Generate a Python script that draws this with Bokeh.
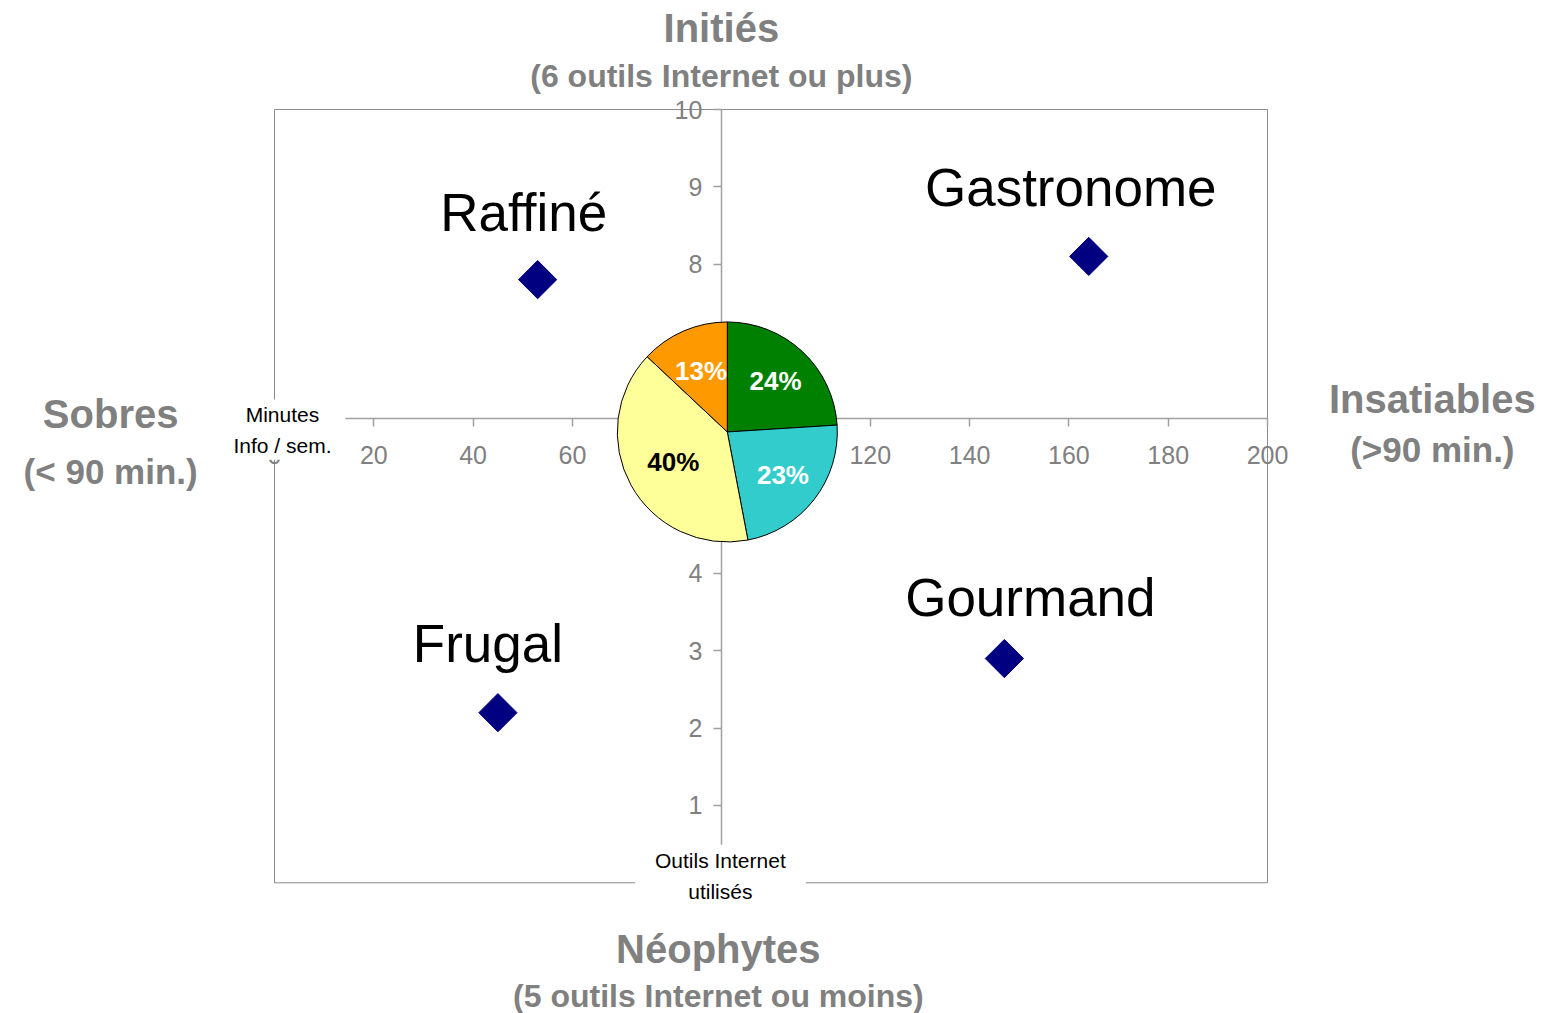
import math
from bokeh.plotting import figure
from bokeh.models import ColumnDataSource, LinearAxis, Label, Range1d, FixedTicker
from bokeh.core.properties import value
from bokeh.embed import file_html
from bokeh.resources import INLINE

# ---------------- data ----------------
segments = ["Raffiné", "Gastronome", "Gourmand", "Frugal"]
minutes = [53, 164, 147, 45]          # Minutes Info / sem.
tools = [7.8, 8.1, 2.9, 2.2]          # Outils Internet utilisés

pie_labels = ["24%", "23%", "40%", "13%"]
pie_values = [24, 23, 40, 13]
pie_colors = ["#008000", "#33CCCC", "#FFFF99", "#FF9900"]
pie_text_colors = ["white", "white", "black", "white"]

x_ticks = [0, 20, 40, 60, 80, 100, 120, 140, 160, 180, 200]
y_ticks = [0, 1, 2, 3, 4, 5, 6, 7, 8, 9, 10]
X_MIN, X_MAX = 0, 200
Y_MIN, Y_MAX = 0, 10

# ---------------- style / layout ----------------
FONT = "Liberation Sans"
GREY = "#808080"
AXIS_GREY = "#a0a0a0"
W, H = 1553, 1013
# pixel box of the chart area inside the canvas
BOX_L, BOX_R, BOX_T, BOX_B = 274, 1267, 109, 882.3
sx = (BOX_R - BOX_L) / (X_MAX - X_MIN)
sy = (BOX_B - BOX_T) / (Y_MAX - Y_MIN)
x_start = X_MIN - BOX_L / sx
x_end = X_MAX + (W - BOX_R) / sx
y_start = Y_MIN - (H - BOX_B) / sy
y_end = Y_MAX + BOX_T / sy

X_CROSS = 90     # vertical axis position (minutes)
Y_CROSS = 6      # horizontal axis position (outils)
PIE_X, PIE_Y, PIE_R = 91.2, 5.83, 110
label_dx = [-14, -18, 26, -10]
label_dy = [-67, -69, -61, -69]
pie_label_r = [0.64, 0.64, 0.56, 0.6]

p = figure(width=W, height=H,
           x_range=Range1d(x_start, x_end), y_range=Range1d(y_start, y_end),
           x_axis_type=None, y_axis_type=None,
           output_backend="svg", toolbar_location=None,
           min_border=0)
p.outline_line_color = None
p.background_fill_color = "white"
p.border_fill_color = "white"

# chart box
p.quad(left=[X_MIN], right=[X_MAX], bottom=[Y_MIN], top=[Y_MAX],
       fill_color=None, line_color="#8c8c8c", line_width=1)

common_axis = dict(axis_line_color=AXIS_GREY, axis_line_width=1.5,
                   major_tick_line_color=AXIS_GREY, major_tick_line_width=1.5,
                   major_tick_in=0, major_tick_out=8,
                   minor_tick_line_color=None,
                   major_label_text_font=FONT,
                   major_label_text_font_size="25px",
                   major_label_text_color=GREY)

xaxis = LinearAxis(fixed_location=Y_CROSS, ticker=FixedTicker(ticks=x_ticks),
                   bounds=(X_MIN, X_MAX), major_label_standoff=19, **common_axis)
p.add_layout(xaxis, "below")
yaxis = LinearAxis(fixed_location=X_CROSS, ticker=FixedTicker(ticks=y_ticks),
                   bounds=(Y_MIN, Y_MAX), major_label_standoff=11, **common_axis)
p.add_layout(yaxis, "left")

# ---------------- points ----------------
src = ColumnDataSource(dict(x=minutes, y=tools, name=segments,
                            dx=label_dx, dy=label_dy))
p.scatter("x", "y", source=src, marker="square", angle=math.pi / 4,
          size=27, fill_color="#000080", line_color="#000080")
p.text("x", "y", text="name", source=src, x_offset="dx", y_offset="dy",
       text_font=value(FONT), text_font_size=value("53px"),
       text_color="black", text_align="center", text_baseline="middle")

# ---------------- pie ----------------
total = sum(pie_values)
starts, ends, lx, ly = [], [], [], []
cum = 0
for v, rf in zip(pie_values, pie_label_r):
    a0 = math.pi / 2 - 2 * math.pi * cum / total
    cum += v
    a1 = math.pi / 2 - 2 * math.pi * cum / total
    starts.append(a0)
    ends.append(a1)
    mid = (a0 + a1) / 2
    lx.append(rf * PIE_R * math.cos(mid))
    ly.append(-rf * PIE_R * math.sin(mid))
pie_src = ColumnDataSource(dict(start=starts, end=ends, color=pie_colors,
                                label=pie_labels, tcolor=pie_text_colors,
                                ox=lx, oy=ly,
                                x=[PIE_X] * len(pie_values),
                                y=[PIE_Y] * len(pie_values)))
p.wedge(x="x", y="y", radius=PIE_R, radius_units="screen",
        start_angle="start", end_angle="end", direction="clock",
        fill_color="color", line_color="black", line_width=1,
        source=pie_src, level="overlay")
p.text(x="x", y="y", text="label", source=pie_src, x_offset="ox", y_offset="oy",
       text_font=value(FONT), text_font_size=value("26px"), text_font_style="bold",
       text_color="tcolor", text_align="center", text_baseline="middle",
       level="overlay")

# ---------------- axis titles ----------------
p.add_layout(Label(x=1.6, y=5.86, text="Minutes\nInfo / sem.",
                   text_font=FONT, text_font_size="21px", text_color="black",
                   text_align="center", text_baseline="middle",
                   text_line_height=1.35,
                   background_fill_color="white", padding=(14, 3)))
p.add_layout(Label(x=89.8, y=0.09, text="Outils Internet\nutilisés",
                   text_font=FONT, text_font_size="21px", text_color="black",
                   text_align="center", text_baseline="middle",
                   text_line_height=1.35,
                   background_fill_color="white", padding=(20, 4)))

# ---------------- quadrant titles ----------------
titles = [
    ("Initiés", 90.0, 11.05, "40px"),
    ("(6 outils Internet ou plus)", 90.0, 10.43, "32px"),
    ("Sobres", -33.0, 6.06, "40px"),
    ("(< 90 min.)", -33.0, 5.32, "35px"),
    ("Insatiables", 233.2, 6.25, "40px"),
    ("(>90 min.)", 233.2, 5.60, "35px"),
    ("Néophytes", 89.4, -0.85, "40px"),
    ("(5 outils Internet ou moins)", 89.4, -1.47, "32px"),
]
for t, x, y, fs in titles:
    p.add_layout(Label(x=x, y=y, text=t, text_font=FONT, text_font_size=fs,
                       text_font_style="bold", text_color=GREY,
                       text_align="center", text_baseline="middle"))

open("out.html", "w").write(file_html(p, INLINE))
